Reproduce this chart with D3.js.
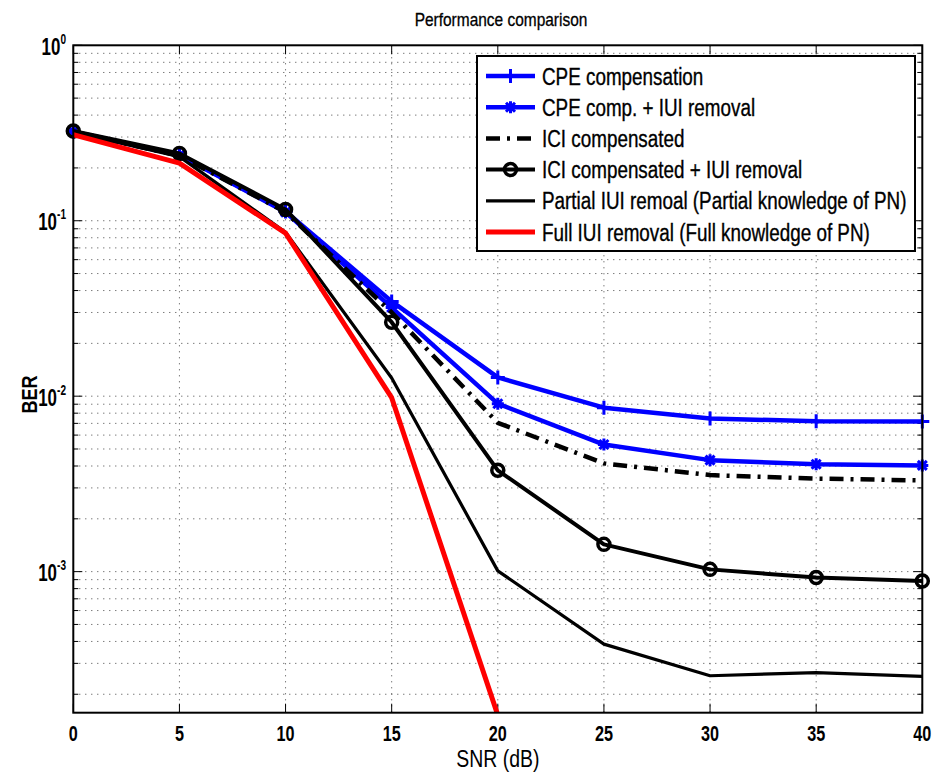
<!DOCTYPE html>
<html>
<head>
<meta charset="utf-8">
<script src="https://cdn.jsdelivr.net/npm/d3@7"></script>
<style>
  body { margin: 0; background: #fff; }
  svg { display: block; }
  text { font-family: "Liberation Sans", Arial, sans-serif; }
</style>
</head>
<body>
<div id="chart"></div>
<script>
// Data
const snr = [0, 5, 10, 15, 20, 25, 30, 35, 40];
const cpeComp = [0.322, 0.238, 0.113, 0.0347, 0.0128, 0.0086, 0.00746, 0.0072, 0.00718];
const cpeIui = [0.322, 0.236, 0.112, 0.032, 0.00906, 0.0053, 0.00432, 0.00409, 0.00403];
const iciComp = [0.32, 0.235, 0.112, 0.03, 0.00705, 0.00414, 0.00355, 0.00339, 0.00331];
const iciIui = [0.325, 0.242, 0.116, 0.0264, 0.00378, 0.00143, 0.00103, 0.000925, 0.000885];
const partialIui = [0.32, 0.232, 0.086, 0.0127, 0.00101, 0.000386, 0.000255, 0.000266, 0.000253];
const fullIui = [0.309, 0.213, 0.085, 0.0098, 0.000152];
const xTicks = [0, 5, 10, 15, 20, 25, 30, 35, 40];
const yDecades = [0, -1, -2, -3];
const seriesNames = [
  'CPE compensation',
  'CPE comp. + IUI removal',
  'ICI compensated',
  'ICI compensated + IUI removal',
  'Partial IUI remoal (Partial knowledge of PN)',
  'Full IUI removal (Full knowledge of PN)'
];

const series = [
  { name: seriesNames[0], values: cpeComp, color: '#0000ff', width: 4.5, dash: null, marker: 'plus' },
  { name: seriesNames[1], values: cpeIui, color: '#0000ff', width: 4.5, dash: null, marker: 'star' },
  { name: seriesNames[2], values: iciComp, color: '#000', width: 4.5, dash: '14,7,3,7', marker: null },
  { name: seriesNames[3], values: iciIui, color: '#000', width: 4, dash: null, marker: 'circle' },
  { name: seriesNames[4], values: partialIui, color: '#000', width: 3.2, dash: null, marker: null },
  { name: seriesNames[5], values: fullIui, color: '#ff0000', width: 5, dash: null, marker: null }
];

// Dimensions
const dims = { width: 933, height: 773, left: 73.3, right: 922.3, top: 45.3, bottom: 712.7 };
const yMin = 1.57e-4, yMax = 1;

const svg = d3.select('#chart').append('svg')
  .attr('width', dims.width)
  .attr('height', dims.height);

// condensed text: squeeze horizontally (no narrow font installed)
function label(parent, x, y, f, rotate) {
  return parent.append('g')
    .attr('transform', `translate(${x},${y})` + (rotate ? ` rotate(${rotate})` : '') + ` scale(${f},1)`)
    .append('text');
}

// Scales
const xScale = d3.scaleLinear().domain([0, 40]).range([dims.left, dims.right]);
const yScale = d3.scaleLog().domain([yMin, yMax]).range([dims.bottom, dims.top]);

// grid
const grid = svg.append('g')
  .attr('stroke', '#444')
  .attr('stroke-width', 1)
  .attr('stroke-dasharray', '1,5');

xTicks.slice(1, -1).forEach(t => {
  grid.append('line')
    .attr('x1', xScale(t)).attr('x2', xScale(t))
    .attr('y1', dims.top).attr('y2', dims.bottom);
});

const minorY = [];
const majorY = [];
for (let e = -4; e <= 0; e++) {
  for (let m = 1; m <= 9; m++) {
    const v = m * Math.pow(10, e);
    if (v < yMin || v > yMax) continue;
    if (m === 1) majorY.push(v); else minorY.push(v);
  }
}
minorY.concat(majorY.filter(v => v < 1)).forEach(v => {
  grid.append('line')
    .attr('x1', dims.left).attr('x2', dims.right)
    .attr('y1', yScale(v)).attr('y2', yScale(v));
});

// tick marks (inside, both sides)
const ticks = svg.append('g').attr('stroke', '#000').attr('stroke-width', 1);
xTicks.forEach(t => {
  const x = xScale(t);
  ticks.append('line').attr('x1', x).attr('x2', x).attr('y1', dims.bottom).attr('y2', dims.bottom - 9);
  ticks.append('line').attr('x1', x).attr('x2', x).attr('y1', dims.top).attr('y2', dims.top + 9);
});
majorY.concat(minorY).forEach(v => {
  const y = yScale(v);
  const len = majorY.includes(v) ? 9 : 5;
  ticks.append('line').attr('x1', dims.left).attr('x2', dims.left + len).attr('y1', y).attr('y2', y);
  ticks.append('line').attr('x1', dims.right).attr('x2', dims.right - len).attr('y1', y).attr('y2', y);
});

// lines
svg.append('clipPath').attr('id', 'plotClip')
  .append('rect')
  .attr('x', dims.left).attr('y', dims.top)
  .attr('width', dims.right - dims.left).attr('height', dims.bottom - dims.top);

const lineGen = d3.line()
  .x((d, i) => xScale(snr[i]))
  .y(d => yScale(d));

function drawMarker(g, type, x, y, color) {
  if (type === 'plus') {
    g.append('path').attr('d', `M${x - 7},${y}H${x + 7}M${x},${y - 7}V${y + 7}`)
      .attr('stroke', color).attr('stroke-width', 3).attr('fill', 'none');
  } else if (type === 'star') {
    g.append('path').attr('d', `M${x - 6},${y}H${x + 6}M${x},${y - 6}V${y + 6}M${x - 4.5},${y - 4.5}L${x + 4.5},${y + 4.5}M${x - 4.5},${y + 4.5}L${x + 4.5},${y - 4.5}`)
      .attr('stroke', color).attr('stroke-width', 3).attr('fill', 'none');
  } else if (type === 'circle') {
    g.append('circle').attr('cx', x).attr('cy', y).attr('r', 6)
      .attr('stroke', color).attr('stroke-width', 3.5).attr('fill', 'none');
  }
}

series.forEach(s => {
  const g = svg.append('g');
  g.append('path')
    .datum(s.values)
    .attr('d', lineGen)
    .attr('clip-path', 'url(#plotClip)')
    .attr('fill', 'none')
    .attr('stroke', s.color)
    .attr('stroke-width', s.width)
    .attr('stroke-linejoin', 'round')
    .attr('stroke-dasharray', s.dash);
  if (s.marker) {
    s.values.forEach((v, i) => drawMarker(g, s.marker, xScale(snr[i]), yScale(v), s.color));
  }
});

// axes box
svg.append('rect')
  .attr('x', dims.left).attr('y', dims.top)
  .attr('width', dims.right - dims.left).attr('height', dims.bottom - dims.top)
  .attr('fill', 'none').attr('stroke', '#000').attr('stroke-width', 2);

// tick labels
xTicks.forEach(t => {
  label(svg, xScale(t), 741, 0.72)
    .attr('text-anchor', 'middle')
    .attr('font-size', 22.5)
    .attr('font-weight', 'bold')
    .text(t);
});

yDecades.forEach(e => {
  const t = label(svg, 66, yScale(Math.pow(10, e)) + 9.5, 0.72)
    .attr('text-anchor', 'end')
    .attr('font-size', 23.5)
    .attr('font-weight', 'bold');
  t.append('tspan').text('10');
  t.append('tspan').attr('dy', -11).attr('font-size', 14).text(e);
});

// axis labels and title
label(svg, xScale(20), 767, 0.81)
  .attr('text-anchor', 'middle')
  .attr('font-size', 24)
  .text('SNR (dB)');

label(svg, 37, 394.5, 0.82, -90)
  .attr('text-anchor', 'middle')
  .attr('font-size', 22)
  .attr('font-weight', 'bold')
  .text('BER');

label(svg, 501, 26, 0.86)
  .attr('text-anchor', 'middle')
  .attr('font-size', 18)
  .attr('stroke', '#000')
  .attr('stroke-width', 0.3)
  .text('Performance comparison');

// legend
const legend = svg.append('g');
legend.append('rect')
  .attr('x', 477).attr('y', 56)
  .attr('width', 438).attr('height', 195)
  .attr('fill', '#fff').attr('stroke', '#000').attr('stroke-width', 2);

series.forEach((s, i) => {
  const y = 76 + i * 31.2;
  legend.append('line')
    .attr('x1', 486).attr('x2', 535)
    .attr('y1', y).attr('y2', y)
    .attr('stroke', s.color)
    .attr('stroke-width', s.width)
    .attr('stroke-dasharray', s.dash);
  if (s.marker) drawMarker(legend, s.marker, 510.5, y, s.color);
  label(legend, 542, y + 8.5, 0.82)
    .attr('font-size', 23)
    .attr('stroke', '#000')
    .attr('stroke-width', 0.35)
    .text(s.name);
});
</script>
</body>
</html>
